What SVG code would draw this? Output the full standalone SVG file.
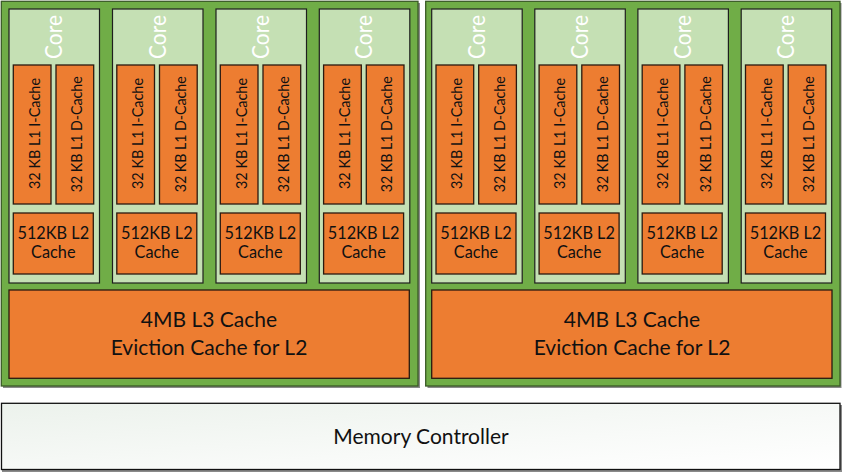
<svg xmlns="http://www.w3.org/2000/svg" width="842" height="472" viewBox="0 0 842 472">
<defs>
<linearGradient id="mc" x1="0" y1="0" x2="1" y2="1">
<stop offset="0" stop-color="#ecf2ec"/>
<stop offset="0.6" stop-color="#f8faf8"/>
<stop offset="1" stop-color="#ffffff"/>
</linearGradient>
<style>
.ccx{fill:#70AD47;stroke:#3a5a26;stroke-width:1.3}
.shadow{fill:#8a8a8a}
.core{fill:#C5E0B4;stroke:#1e1e1e;stroke-width:1.2}
.cache{fill:#ED7D31;stroke:#2a1a10;stroke-width:1.3}
.t{font-family:Lato,"Liberation Sans",sans-serif;fill:#111;text-anchor:middle}
.ct{font-size:23px;fill:#ffffff}
.l1{font-size:15.5px}
.l2{font-size:16.3px}
.l3{font-size:21px}
</style>
<g id="coreTpl">
<rect class="core" x="0" y="9" width="90.5" height="274"/>
<text class="t ct" transform="translate(53 37) rotate(-90)" textLength="44" lengthAdjust="spacingAndGlyphs">Core</text>
<rect class="cache" x="4.3" y="65" width="37.7" height="139"/>
<text class="t l1" transform="translate(30.5 133.5) rotate(-90)" textLength="111" lengthAdjust="spacingAndGlyphs">32 KB L1 I-Cache</text>
<rect class="cache" x="47" y="65" width="37.7" height="139"/>
<text class="t l1" transform="translate(73 134.3) rotate(-90)" textLength="116" lengthAdjust="spacingAndGlyphs">32 KB L1 D-Cache</text>
<rect class="cache" x="4.3" y="213" width="80" height="61"/>
<text class="t l2" x="44.3" y="239.3">512KB L2</text>
<text class="t l2" x="44.3" y="257.5">Cache</text>
</g>
</defs>
<rect width="842" height="472" fill="#ffffff"/>
<g id="ccx0">
<rect class="shadow" x="3" y="3" width="417" height="385"/>
<rect class="ccx" x="1.3" y="1.3" width="416.7" height="384.7"/>
<g id="ccx0-core0"><use href="#coreTpl" x="9"/></g>
<g id="ccx0-core1"><use href="#coreTpl" x="112.5"/></g>
<g id="ccx0-core2"><use href="#coreTpl" x="216"/></g>
<g id="ccx0-core3"><use href="#coreTpl" x="319.3"/></g>
<g id="ccx0-l3">
<rect class="cache" x="9" y="290" width="400.3" height="88.3"/>
<text class="t l3" x="209" y="327">4MB L3 Cache</text>
<text class="t l3" x="209" y="355">Eviction Cache for L2</text>
</g>
</g>
<g id="ccx1">
<rect class="shadow" x="427.5" y="3" width="414" height="385"/>
<rect class="ccx" x="425.7" y="1.3" width="414.3" height="384.7"/>
<g id="ccx1-core0"><use href="#coreTpl" x="431.7"/></g>
<g id="ccx1-core1"><use href="#coreTpl" x="534.8"/></g>
<g id="ccx1-core2"><use href="#coreTpl" x="637.9"/></g>
<g id="ccx1-core3"><use href="#coreTpl" x="741.2"/></g>
<g id="ccx1-l3">
<rect class="cache" x="431.7" y="290" width="400.3" height="88.3"/>
<text class="t l3" x="632" y="327">4MB L3 Cache</text>
<text class="t l3" x="632" y="355">Eviction Cache for L2</text>
</g>
</g>
<g id="memctrl">
<rect class="shadow" x="2" y="405" width="840" height="67"/>
<rect x="1.5" y="403.3" width="838.5" height="66.2" fill="url(#mc)" stroke="#111" stroke-width="1.3"/>
<text class="t l3" x="421" y="443.5">Memory Controller</text>
</g>
<g id="connectors"/>
</svg>
